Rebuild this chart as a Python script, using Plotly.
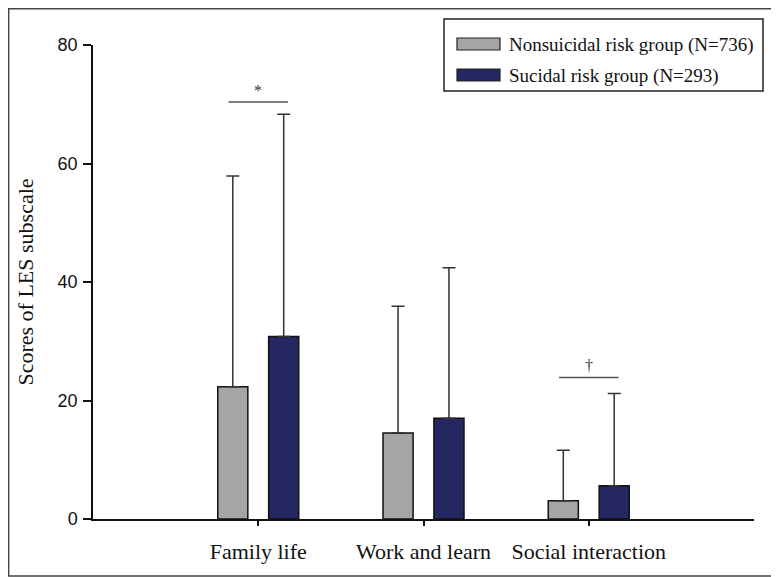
import plotly.graph_objects as go

categories = ["Family life", "Work and learn", "Social interaction"]
cat_pos = [1, 2, 3]
nonsuicidal_mean = [22.3, 14.5, 3.1]
nonsuicidal_sd = [35.6, 21.4, 8.5]
suicidal_mean = [30.8, 17.0, 5.6]
suicidal_sd = [37.5, 25.4, 15.6]
series_names = ["Nonsuicidal risk group (N=736)", "Sucidal risk group (N=293)"]
sig_labels = ["*", "", "†"]
sig_y = [70.4, None, 23.9]
y_ticks = [0, 20, 40, 60, 80]

GRAY = "#a5a5a5"
NAVY = "#242760"
SERIF = "Liberation Serif, Times New Roman, serif"
SANS = "Liberation Sans, Arial, sans-serif"

OFF = 8  # page body margin
W, H = 779 - OFF, 577 - OFF
L, R, T, B = 85, 25, 37, 58
pw, ph = W - L - R, H - T - B

fig = go.Figure()
for name, means, sds, color, off in [
    (series_names[0], nonsuicidal_mean, nonsuicidal_sd, GRAY, -0.245),
    (series_names[1], suicidal_mean, suicidal_sd, NAVY, 0.063),
]:
    fig.add_trace(go.Bar(
        x=cat_pos, y=means, name=name, width=0.182, offset=off,
        marker=dict(color=color, line=dict(color="#111111", width=1.5)),
        error_y=dict(type="data", array=sds, arrayminus=[0] * len(sds),
                     symmetric=False, color="#333333", thickness=1.5, width=6.5),
        showlegend=False,
    ))

# significance markers
for xc, lab, yv in zip(cat_pos, sig_labels, sig_y):
    if yv is None:
        continue
    fig.add_shape(type="line", xref="x", yref="y", x0=xc - 0.18, x1=xc + 0.18,
                  y0=yv, y1=yv, line=dict(color="#555555", width=1.5))
    fig.add_annotation(x=xc, y=yv, xref="x", yref="y", text=lab, showarrow=False,
                       yanchor="bottom", yshift=1, font=dict(family=SERIF, size=16, color="#333333"))

def px(xp):
    return (xp - OFF - L) / pw

def py(yp):
    return (H - B - (yp - OFF)) / ph

# custom legend
fig.add_shape(type="rect", xref="paper", yref="paper", x0=px(444), x1=px(763), y0=py(91), y1=py(19),
              line=dict(color="#222222", width=1.5), fillcolor="white")
for i, (name, color) in enumerate(zip(series_names, [GRAY, NAVY])):
    cy = 44 + i * 31
    fig.add_shape(type="rect", xref="paper", yref="paper", x0=px(457), x1=px(500),
                  y0=py(cy + 6), y1=py(cy - 6), line=dict(color="#222222", width=1.2), fillcolor=color)
    fig.add_annotation(xref="paper", yref="paper", x=px(507), y=py(cy + 1), text=name, showarrow=False,
                       xanchor="left", yanchor="middle", font=dict(family=SERIF, size=19, color="#111111"))

# outer frame
fig.add_shape(type="rect", xref="paper", yref="paper", x0=-L / pw + 0.001, x1=(W - 1 - L) / pw,
              y0=-(B - 1) / ph, y1=(ph + T - 0.75) / ph,
              line=dict(color="#444444", width=1.5), layer="below")

fig.update_layout(
    width=W, height=H, margin=dict(l=L, r=R, t=T, b=B),
    paper_bgcolor="white", plot_bgcolor="white", barmode="overlay",
    xaxis=dict(range=[0, 4], tickvals=cat_pos, ticktext=categories, showgrid=False, zeroline=False,
               showline=True, linecolor="#111111", linewidth=1.5, ticks="outside", ticklen=5,
               tickcolor="#111111", tickwidth=1.5, ticklabelstandoff=7,
               tickfont=dict(family=SERIF, size=22, color="#111111")),
    yaxis=dict(range=[0, 80], tickvals=y_ticks, showgrid=False, zeroline=False, showline=True,
               linecolor="#111111", linewidth=1.5, ticks="outside", ticklen=8, tickcolor="#111111",
               tickwidth=1.5, ticklabelstandoff=2, tickfont=dict(family=SANS, size=18, color="#111111"),
               title=dict(text="Scores of LES subscale", standoff=18,
                          font=dict(family=SERIF, size=22, color="#111111"))),
)
fig.write_html("out.html")
